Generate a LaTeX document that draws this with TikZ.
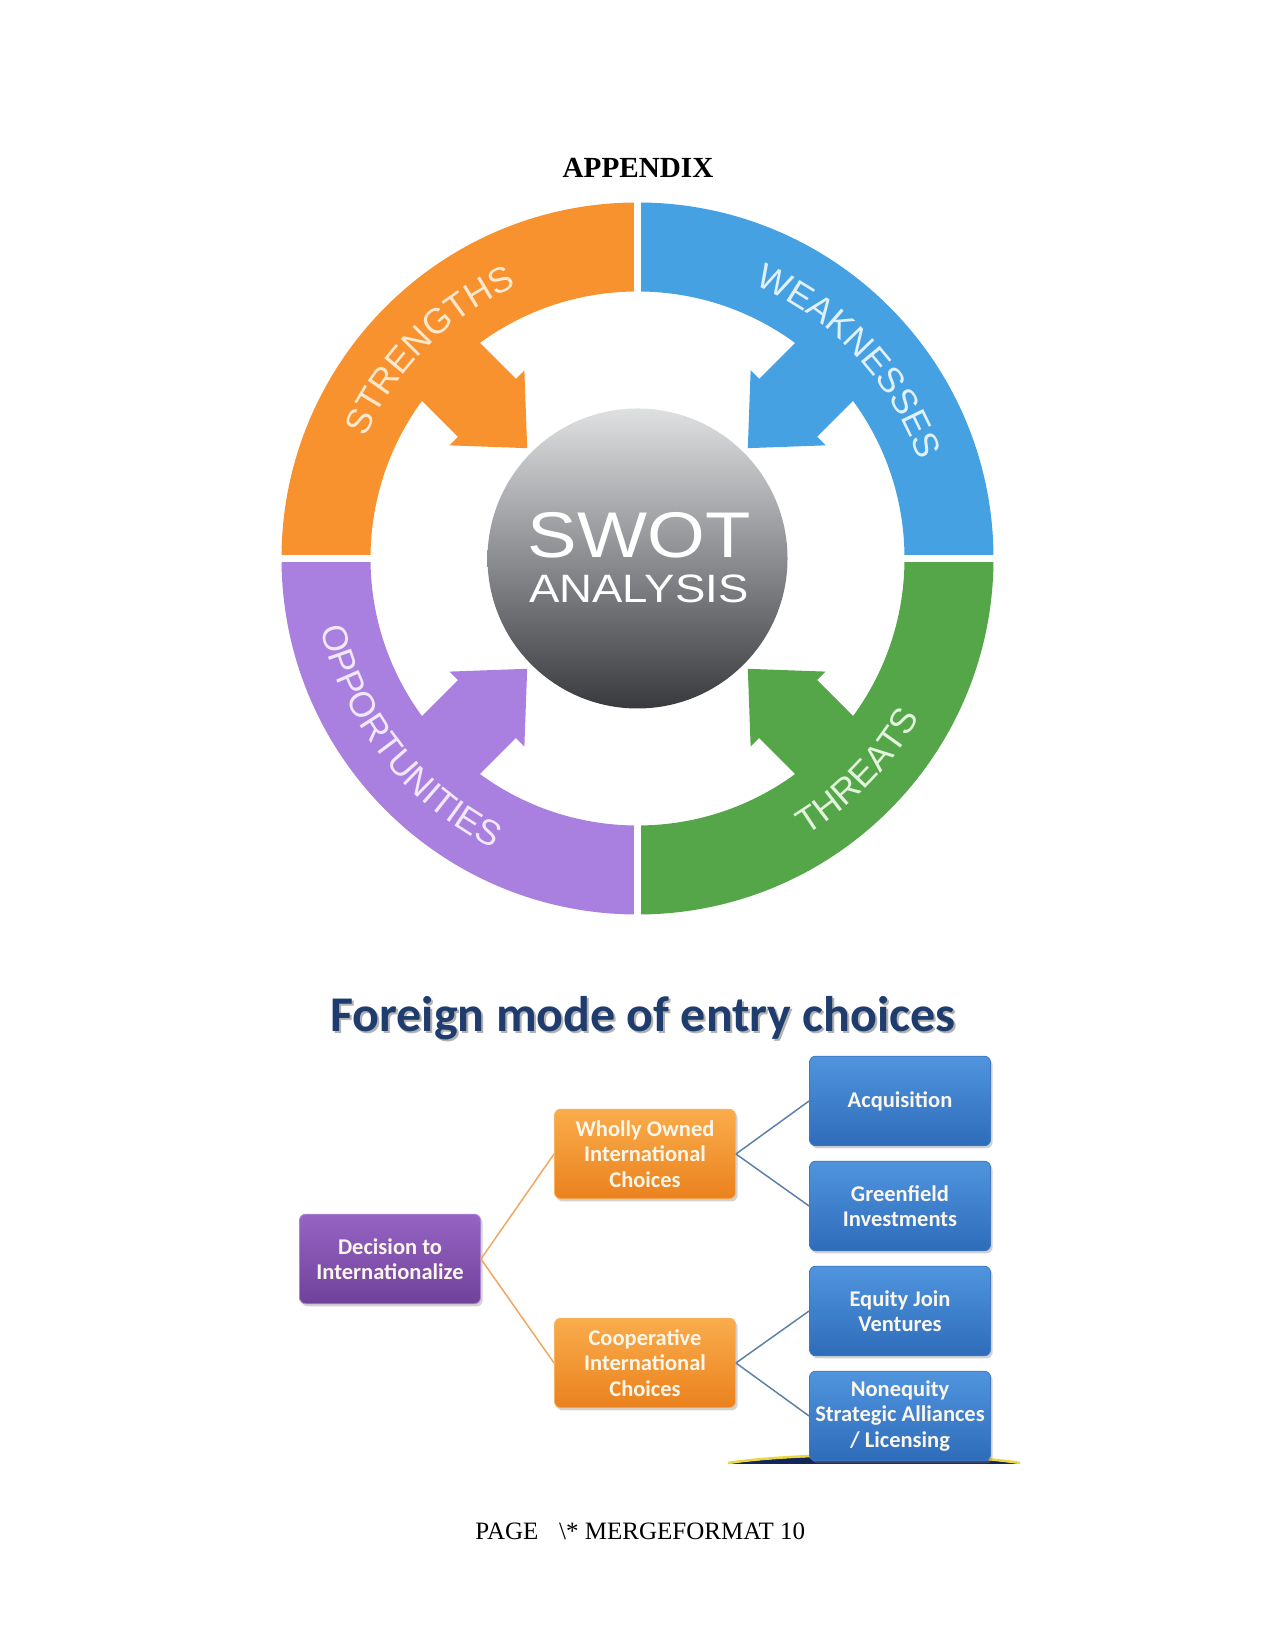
\documentclass[tikz,border=0pt]{standalone}
\usepackage{fontspec}
\usepackage{graphicx}
\setmainfont{Liberation Serif}
\newfontfamily\arialf{Liberation Sans}
\newfontfamily\calib{Carlito}
\usetikzlibrary{decorations.text,shadows,calc}

\definecolor{sorange}{HTML}{F7922E}
\definecolor{sblue}{HTML}{45A1E2}
\definecolor{sgreen}{HTML}{55A549}
\definecolor{spurple}{HTML}{A97FE0}
\definecolor{torange}{HTML}{FDE8CE}
\definecolor{tblue}{HTML}{E0F0FC}
\definecolor{tgreen}{HTML}{E2F4DC}
\definecolor{tpurple}{HTML}{F1E8FC}
\definecolor{navyt}{HTML}{1F3C6E}
\definecolor{boxtext}{HTML}{FBF6EA}
\definecolor{olink}{HTML}{F2A65A}
\definecolor{blink}{HTML}{5B7FA6}
\definecolor{ptop}{RGB}{150,100,196}
\definecolor{pbot}{RGB}{112,66,154}
\definecolor{pedge}{RGB}{170,135,206}
\definecolor{otop}{RGB}{250,172,76}
\definecolor{obot}{RGB}{234,130,30}
\definecolor{oedge}{RGB}{247,180,96}
\definecolor{btop}{RGB}{80,148,222}
\definecolor{bbot}{RGB}{46,108,186}
\definecolor{bedge}{RGB}{62,120,196}
\definecolor{ctop}{RGB}{222,224,226}
\definecolor{cmid}{RGB}{150,152,156}
\definecolor{cbot}{RGB}{56,58,62}
\definecolor{domec}{RGB}{18,38,90}
\definecolor{domeg}{RGB}{235,215,60}

\newcommand\swquad[4]{%
  \fill[#1] ($(C)+(#2:356)$) arc[start angle=#2, end angle=#3, radius=356]
     -- ($(C)+(#3:267)$) arc[start angle=#3, end angle=#2, radius=267] -- cycle;
  \fill[#1, shift={(C)}, rotate=#4] (156,0) -- (213,53) -- (213,41) -- (280,41)
     -- (280,-41) -- (213,-41) -- (213,-53) -- cycle;}

\tikzset{
  fbox/.style={rounded corners=3pt, minimum width=86.9pt, minimum height=43pt,
    align=center, inner sep=2pt, text=boxtext,
    font=\calib\bfseries\fontsize{10.8}{12.1}\selectfont,
    drop shadow={opacity=0.35, shadow xshift=1pt, shadow yshift=-1.3pt}},
  pbox/.style={fbox, top color=ptop, bottom color=pbot, draw=pedge},
  obox/.style={fbox, top color=otop, bottom color=obot, draw=oedge},
  bbox/.style={fbox, top color=btop, bottom color=bbot, draw=bedge},
  olinkst/.style={draw=olink, line width=0.7pt},
  blinkst/.style={draw=blink, line width=0.7pt},
  ringtext/.style={decorate, decoration={text along path, text align=center}}
}

\begin{document}
\begin{tikzpicture}[x=0.48pt,y=0.48pt]
\useasboundingbox (0,0) rectangle (1275,1650);
\fill[white] (0,0) rectangle (1275,1650);

% heading
\node[anchor=base, inner sep=0, font=\fontsize{14}{16}\selectfont\bfseries] (appx) at (638,1472) {APPENDIX};

% SWOT wheel
\coordinate (C) at (637.5,1091.5);
\swquad{sorange}{90}{180}{135}
\swquad{sblue}{0}{90}{45}
\swquad{spurple}{180}{270}{225}
\swquad{sgreen}{270}{360}{315}
\draw[white, line width=3.4pt] ($(C)+(0,255)$) -- ($(C)+(0,365)$);
\draw[white, line width=3.4pt] ($(C)+(0,-255)$) -- ($(C)+(0,-365)$);
\draw[white, line width=3.4pt] ($(C)+(255,0)$) -- ($(C)+(365,0)$);
\draw[white, line width=3.4pt] ($(C)+(-255,0)$) -- ($(C)+(-365,0)$);

\node[circle, inner sep=0, minimum size=144pt,
  top color=ctop, middle color=cmid, bottom color=cbot] (swotc) at (C) {};
\node[anchor=base, inner sep=0, text=white, font=\arialf\fontsize{31}{31}\selectfont] (swt) at (639,1092) {\scalebox{1.15}[1]{SWOT}};
\node[anchor=base, inner sep=0, text=white, font=\arialf\fontsize{19}{19}\selectfont] (ana) at (639,1047) {\scalebox{1.15}[1]{ANALYSIS}};

\path[ringtext, decoration={text={|\arialf\fontsize{17}{17}\selectfont\color{torange}|STRENGTHS}}]
  ($(C)+(165:298)$) arc[start angle=165, end angle=105, radius=298];
\path[ringtext, decoration={text={|\arialf\fontsize{17}{17}\selectfont\color{tblue}|WEAKNESSES}}]
  ($(C)+(75:298)$) arc[start angle=75, end angle=11, radius=298];
\path[ringtext, decoration={text={|\arialf\fontsize{17}{17}\selectfont\color{tpurple}|OPPORTUNITIES}}]
  ($(C)+(185:324)$) arc[start angle=185, end angle=251, radius=324];
\path[ringtext, decoration={text={|\arialf\fontsize{17}{17}\selectfont\color{tgreen}|THREATS}}]
  ($(C)+(-74:324)$) arc[start angle=-74, end angle=-14, radius=324];

% Foreign mode of entry choices
\node[anchor=base, inner sep=0, text=black!30, font=\calib\bfseries\fontsize{24}{28}\selectfont] (titsh) at (645,616) {Foreign mode of entry choices};
\node[anchor=base, inner sep=0, text=navyt, font=\calib\bfseries\fontsize{24}{28}\selectfont] (tit) at (643,618) {Foreign mode of entry choices};

\fill[domec] (728,186) .. controls (800,197) and (950,197) .. (1020,186) -- cycle;
\draw[domeg, line width=1.2pt] (728,187) .. controls (800,198) and (950,198) .. (1020,187);

\node[pbox] (dec) at (390,391) {Decision to\\Internationalize};
\node[obox] (who) at (645,496) {Wholly Owned\\International\\Choices};
\node[obox] (coo) at (645,287) {Cooperative\\International\\Choices};
\node[bbox] (acq) at (900,549) {Acquisition};
\node[bbox] (gre) at (900,444) {Greenfield\\Investments};
\node[bbox] (equ) at (900,339) {Equity Join\\Ventures};
\node[bbox] (non) at (900,234) {Nonequity\\Strategic Alliances\\/ Licensing};

\draw[olinkst] (dec.east) -- (who.west);
\draw[olinkst] (dec.east) -- (coo.west);
\draw[blinkst] (who.east) -- (acq.west);
\draw[blinkst] (who.east) -- (gre.west);
\draw[blinkst] (coo.east) -- (equ.west);
\draw[blinkst] (coo.east) -- (non.west);

% footer
\node[anchor=base west, inner sep=0, font=\fontsize{12}{14}\selectfont] (foot) at (475,110) {PAGE\hspace{10pt}\textbackslash* MERGEFORMAT 10};
\end{tikzpicture}
\end{document}
